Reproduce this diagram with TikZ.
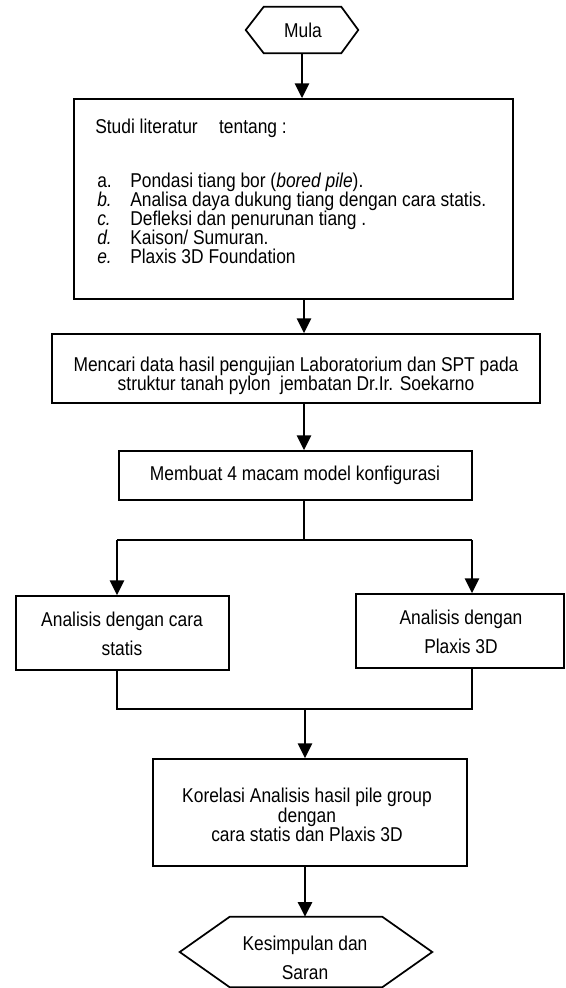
\documentclass[tikz,border=0pt]{standalone}
\usepackage{fontspec}
\setmainfont{Liberation Sans}[FakeStretch=0.87]
\usetikzlibrary{arrows.meta,calc}
\def\PX{*0.75pt}
\begin{document}
\begin{tikzpicture}[x=0.75pt,y=-0.75pt,
  frame/.style={draw, line width=1.3pt, inner sep=0pt},
  ghost/.style={inner sep=0pt},
  txt/.style={inner sep=0pt, font=\fontsize{15}{14}\selectfont, align=center},
  txts/.style={inner sep=0pt, font=\fontsize{15}{14.6}\selectfont, align=center},
  txtw/.style={inner sep=0pt, font=\fontsize{15}{21.5}\selectfont, align=center},
  arr/.style={line width=1.9pt, -{Triangle[width=10.5pt,length=11pt]}},
  conn/.style={line width=0.9pt},
  hconn/.style={line width=1.5pt}]
\useasboundingbox (0,0) rectangle (565,988);
\fill[white] (0,0) rectangle (565,988);

% frames
\node[ghost, minimum width=112\PX, minimum height=46\PX] (h1) at (302,30) {};
\node[frame, minimum width=439\PX, minimum height=200\PX] (b1) at (293.5,199) {};
\node[frame, minimum width=488\PX, minimum height=69\PX] (b2) at (296,368.5) {};
\node[frame, minimum width=353\PX, minimum height=49\PX] (b3) at (295.5,475.5) {};
\node[frame, minimum width=213\PX, minimum height=74\PX] (b4) at (122.5,633) {};
\node[frame, minimum width=208\PX, minimum height=74\PX] (b5) at (460,631) {};
\node[frame, minimum width=314\PX, minimum height=107\PX] (b6) at (310,812.5) {};
\node[ghost, minimum width=252\PX, minimum height=70\PX] (h2) at (306,952) {};

% hexagons
\draw[line width=1.3pt] (h1.west) -- ($(h1.north west)+(18,0)$) -- ($(h1.north east)+(-17,0)$)
  -- (h1.east) -- ($(h1.south east)+(-17,0)$) -- ($(h1.south west)+(18,0)$) -- cycle;
\draw[line width=1.3pt] (h2.west) -- ($(h2.north west)+(50,0)$) -- ($(h2.north east)+(-50,0)$)
  -- (h2.east) -- ($(h2.south east)+(-50,0)$) -- ($(h2.south west)+(50,0)$) -- cycle;

% texts
\node[txt] (tmula) at (303,30) {Mula};
\node[txt, anchor=base west] (t1) at (95,134) {Studi literatur\hspace{16pt}tentang :};
\node[txt, anchor=base west] (la) at (97,187) {a.};
\node[txt, anchor=base west] (lb) at (97,206) {\itshape b.};
\node[txt, anchor=base west] (lc) at (97,225) {\itshape c.};
\node[txt, anchor=base west] (ld) at (97,244) {\itshape d.};
\node[txt, anchor=base west] (le) at (97,263) {\itshape e.};
\node[txt, anchor=base west] (ia) at (130,187) {Pondasi tiang bor (\textit{bored pile}).};
\node[txt, anchor=base west] (ib) at (130,206) {Analisa daya dukung tiang dengan cara statis.};
\node[txt, anchor=base west] (ic) at (130,225) {Defleksi dan penurunan tiang .};
\node[txt, anchor=base west] (id) at (130,244) {Kaison/ Sumuran.};
\node[txt, anchor=base west] (ie) at (130,263) {Plaxis 3D Foundation};
\node[txt] (t2) at (296,376) {Mencari data hasil pengujian Laboratorium dan SPT pada\\struktur tanah pylon\ \ jembatan Dr.Ir. Soekarno};
\node[txt] (t3) at (295,475) {Membuat 4 macam model konfigurasi};
\node[txtw] (t4) at (122,634) {Analisis dengan cara\\statis};
\node[txtw] (t5) at (461,632) {Analisis dengan\\Plaxis 3D};
\node[txts] (t6) at (307,815) {Korelasi Analisis hasil pile group\\dengan\\cara statis dan Plaxis 3D};
\node[txtw] (t7) at (305,958) {Kesimpulan dan\\Saran};

% connectors
\coordinate (cx) at (304,0);
\coordinate (xl) at (117,540);
\coordinate (xr) at (472,540);
\coordinate (jl) at (117,709);
\coordinate (jr) at (472,709);
\coordinate (jm) at (305,709);
\draw[arr] (h1.south) -- (h1.south |- b1.north);
\draw[arr] (b1.south -| cx) -- (b2.north -| cx);
\draw[arr] (b2.south -| cx) -- (b3.north -| cx);
\draw[conn] (b3.south -| cx) -- (xl -| cx);
\draw[hconn] (xl) -- (xr);
\draw[arr] (xl) -- (xl |- b4.north);
\draw[arr] (xr) -- (xr |- b5.north);
\draw[conn] (b4.south -| jl) -- (jl) -- (jr) -- (b5.south -| jr);
\draw[arr] (jm) -- (jm |- b6.north);
\draw[arr] (b6.south -| jm) -- (jm |- h2.north);
\end{tikzpicture}
\end{document}
